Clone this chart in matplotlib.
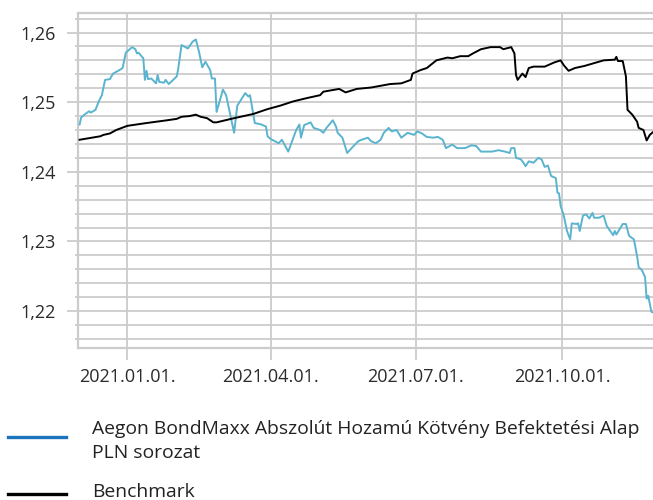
import pandas as pd
import matplotlib
matplotlib.use('Agg')
import matplotlib.pyplot as plt
import matplotlib.dates as mdates
from matplotlib.lines import Line2D
from matplotlib.ticker import FixedLocator, MultipleLocator, FuncFormatter

# fund series
fund_dates = [
    '2020-12-02', '2020-12-03', '2020-12-05', '2020-12-08', '2020-12-09', '2020-12-12',
    '2020-12-14', '2020-12-16', '2020-12-18', '2020-12-21', '2020-12-23', '2020-12-27',
    '2020-12-29', '2020-12-30', '2020-12-31', '2021-01-04', '2021-01-06', '2021-01-07',
    '2021-01-08', '2021-01-11', '2021-01-12', '2021-01-13', '2021-01-14', '2021-01-16',
    '2021-01-19', '2021-01-20', '2021-01-21', '2021-01-24', '2021-01-25', '2021-01-27',
    '2021-02-01', '2021-02-02', '2021-02-04', '2021-02-08', '2021-02-11', '2021-02-13',
    '2021-02-15', '2021-02-17', '2021-02-19', '2021-02-22', '2021-02-23', '2021-02-25',
    '2021-02-26', '2021-03-02', '2021-03-04', '2021-03-09', '2021-03-11', '2021-03-16',
    '2021-03-18', '2021-03-19', '2021-03-22', '2021-03-26', '2021-03-29', '2021-03-30',
    '2021-04-01', '2021-04-06', '2021-04-08', '2021-04-12', '2021-04-17', '2021-04-19',
    '2021-04-20', '2021-04-22', '2021-04-26', '2021-04-28', '2021-05-02', '2021-05-04',
    '2021-05-06', '2021-05-10', '2021-05-12', '2021-05-13', '2021-05-16', '2021-05-19',
    '2021-05-23', '2021-05-26', '2021-05-28', '2021-06-01', '2021-06-03', '2021-06-06',
    '2021-06-09', '2021-06-11', '2021-06-14', '2021-06-16', '2021-06-19', '2021-06-22',
    '2021-06-26', '2021-06-30', '2021-07-02', '2021-07-05', '2021-07-08', '2021-07-12',
    '2021-07-15', '2021-07-18', '2021-07-20', '2021-07-24', '2021-07-27', '2021-08-01',
    '2021-08-05', '2021-08-08', '2021-08-11', '2021-08-18', '2021-08-22', '2021-08-26',
    '2021-08-29', '2021-08-30', '2021-09-01', '2021-09-02', '2021-09-05', '2021-09-07',
    '2021-09-08', '2021-09-10', '2021-09-13', '2021-09-16', '2021-09-18', '2021-09-20',
    '2021-09-22', '2021-09-24', '2021-09-27', '2021-09-28', '2021-09-29', '2021-09-30',
    '2021-10-02', '2021-10-04', '2021-10-06', '2021-10-07', '2021-10-10', '2021-10-11',
    '2021-10-12', '2021-10-14', '2021-10-16', '2021-10-18', '2021-10-20', '2021-10-21',
    '2021-10-24', '2021-10-27', '2021-10-29', '2021-11-02', '2021-11-03', '2021-11-04',
    '2021-11-08', '2021-11-10', '2021-11-12', '2021-11-15', '2021-11-17', '2021-11-18',
    '2021-11-20', '2021-11-22', '2021-11-23', '2021-11-24', '2021-11-26', '2021-11-27',
]
fund_values = [
    1.2468, 1.2478, 1.2482, 1.2487, 1.2485, 1.2489,
    1.2501, 1.2510, 1.2532, 1.2533, 1.2541, 1.2546,
    1.2549, 1.2560, 1.2571, 1.2579, 1.2576, 1.2570,
    1.2571, 1.2563, 1.2532, 1.2545, 1.2533, 1.2534,
    1.2527, 1.2539, 1.2529, 1.2528, 1.2532, 1.2526,
    1.2537, 1.2549, 1.2582, 1.2577, 1.2587, 1.2590,
    1.2572, 1.2550, 1.2558, 1.2546, 1.2534, 1.2534,
    1.2486, 1.2518, 1.2510, 1.2456, 1.2495, 1.2513,
    1.2508, 1.2510, 1.2470, 1.2468, 1.2465, 1.2451,
    1.2447, 1.2441, 1.2446, 1.2429, 1.2460, 1.2468,
    1.2449, 1.2467, 1.2471, 1.2463, 1.2460, 1.2456,
    1.2463, 1.2474, 1.2465, 1.2456, 1.2449, 1.2427,
    1.2437, 1.2444, 1.2446, 1.2449, 1.2444, 1.2441,
    1.2446, 1.2456, 1.2463, 1.2458, 1.2460, 1.2449,
    1.2456, 1.2453, 1.2458, 1.2455, 1.2450, 1.2449,
    1.2450, 1.2446, 1.2434, 1.2439, 1.2434, 1.2434,
    1.2438, 1.2437, 1.2429, 1.2429, 1.2431, 1.2429,
    1.2427, 1.2434, 1.2434, 1.2420, 1.2418, 1.2412,
    1.2408, 1.2415, 1.2413, 1.2420, 1.2418, 1.2407,
    1.2409, 1.2394, 1.2391, 1.2370, 1.2369, 1.2351,
    1.2337, 1.2315, 1.2303, 1.2326, 1.2325, 1.2326,
    1.2315, 1.2337, 1.2339, 1.2333, 1.2341, 1.2334,
    1.2334, 1.2337, 1.2322, 1.2309, 1.2315, 1.2310,
    1.2325, 1.2325, 1.2308, 1.2303, 1.2279, 1.2263,
    1.2259, 1.2249, 1.2218, 1.2222, 1.2199, 1.2198,
]

# benchmark series
bench_dates = [
    '2020-12-02', '2020-12-15', '2020-12-17', '2020-12-21', '2020-12-25', '2021-01-01',
    '2021-01-13', '2021-01-26', '2021-02-01', '2021-02-04', '2021-02-09', '2021-02-13',
    '2021-02-16', '2021-02-20', '2021-02-24', '2021-02-26', '2021-03-09', '2021-03-21',
    '2021-03-30', '2021-04-07', '2021-04-15', '2021-04-24', '2021-05-02', '2021-05-04',
    '2021-05-14', '2021-05-18', '2021-05-25', '2021-06-03', '2021-06-15', '2021-06-22',
    '2021-06-28', '2021-06-29', '2021-07-04', '2021-07-08', '2021-07-14', '2021-07-21',
    '2021-07-24', '2021-07-29', '2021-08-03', '2021-08-06', '2021-08-11', '2021-08-17',
    '2021-08-23', '2021-08-25', '2021-08-30', '2021-09-01', '2021-09-02', '2021-09-03',
    '2021-09-06', '2021-09-08', '2021-09-10', '2021-09-13', '2021-09-20', '2021-09-26',
    '2021-09-30', '2021-10-02', '2021-10-05', '2021-10-09', '2021-10-15', '2021-10-21',
    '2021-10-27', '2021-11-03', '2021-11-04', '2021-11-05', '2021-11-08', '2021-11-10',
    '2021-11-11', '2021-11-14', '2021-11-17', '2021-11-18', '2021-11-21', '2021-11-23',
    '2021-11-25', '2021-11-27',
]
bench_values = [
    1.2446, 1.2451, 1.2453, 1.2455, 1.2460, 1.2466,
    1.2470, 1.2474, 1.2476, 1.2479, 1.2480, 1.2482,
    1.2479, 1.2477, 1.2471, 1.2471, 1.2477, 1.2483,
    1.2490, 1.2495, 1.2501, 1.2506, 1.2510, 1.2515,
    1.2519, 1.2514, 1.2519, 1.2521, 1.2526, 1.2527,
    1.2532, 1.2541, 1.2546, 1.2549, 1.2560, 1.2564,
    1.2563, 1.2566, 1.2566, 1.2570, 1.2576, 1.2579,
    1.2579, 1.2576, 1.2579, 1.2570, 1.2539, 1.2532,
    1.2541, 1.2536, 1.2549, 1.2551, 1.2551, 1.2557,
    1.2560, 1.2553, 1.2545, 1.2549, 1.2552, 1.2556,
    1.2560, 1.2561, 1.2565, 1.2559, 1.2559, 1.2537,
    1.2489, 1.2482, 1.2472, 1.2463, 1.2460, 1.2445,
    1.2453, 1.2457,
]

tick_dates = ['2021-01-01', '2021-04-01', '2021-07-01', '2021-10-01']
tick_labels = ['2021.01.01.', '2021.04.01.', '2021.07.01.', '2021.10.01.']
y_ticks = [1.22, 1.23, 1.24, 1.25, 1.26]

fund_name = ['Aegon BondMaxx Abszolút Hozamú Kötvény Befektetési Alap', 'PLN sorozat']
bench_name = 'Benchmark'

grid_color = '#cccccc'
plt.rcParams['font.family'] = ['Open Sans', 'DejaVu Sans']

fig = plt.figure(figsize=(6.53, 5.00), dpi=100)
ax = fig.add_axes([78 / 653, 1 - 348 / 500, 575 / 653, 335 / 500])

ax.plot(pd.to_datetime(fund_dates), fund_values, color='#5ab4cf', lw=1.4, zorder=3)
ax.plot(pd.to_datetime(bench_dates), bench_values, color='black', lw=1.4, zorder=3)

ax.set_xlim(pd.Timestamp('2020-12-01'), pd.Timestamp('2021-11-27'))
ax.set_ylim(1.2147, 1.2628)

ax.xaxis.set_major_locator(FixedLocator(mdates.date2num(pd.to_datetime(tick_dates))))
ax.set_xticklabels(tick_labels)
ax.set_yticks(y_ticks)
ax.yaxis.set_minor_locator(MultipleLocator(0.002))
ax.yaxis.set_major_formatter(FuncFormatter(lambda v, p: f'{v:.2f}'.replace('.', ',')))

ax.grid(True, which='major', color=grid_color, lw=1.3, zorder=0)
ax.grid(True, which='minor', axis='y', color=grid_color, lw=1.3, zorder=0)
ax.set_axisbelow(True)

for side in ['left', 'bottom', 'top']:
    ax.spines[side].set_color(grid_color)
    ax.spines[side].set_linewidth(1.6)
ax.spines['right'].set_visible(False)

ax.tick_params(axis='both', which='major', color=grid_color, width=1.3, labelsize=13,
               labelcolor='#2b2b2b')
ax.tick_params(axis='y', which='major', length=8, pad=8)
ax.tick_params(axis='x', which='major', length=8.5, pad=6)
ax.tick_params(axis='y', which='minor', length=2, color=grid_color, width=1.3)

# legend drawn by hand below the chart
fig.add_artist(Line2D([8 / 653, 66 / 653], [1 - 436.7 / 500] * 2, color='#1b75bc', lw=2.4))
fig.add_artist(Line2D([8 / 653, 66 / 653], [1 - 494 / 500] * 2, color='black', lw=2.4))
fig.text(92 / 653, 1 - 434 / 500, fund_name[0], fontsize=13.9, color='#222222', va='baseline')
fig.text(92 / 653, 1 - 458.3 / 500, fund_name[1], fontsize=13.9, color='#222222', va='baseline')
fig.text(92 / 653, 1 - 497 / 500, bench_name, fontsize=13.9, color='#222222', va='baseline')

fig.savefig('out.png', dpi=100)
